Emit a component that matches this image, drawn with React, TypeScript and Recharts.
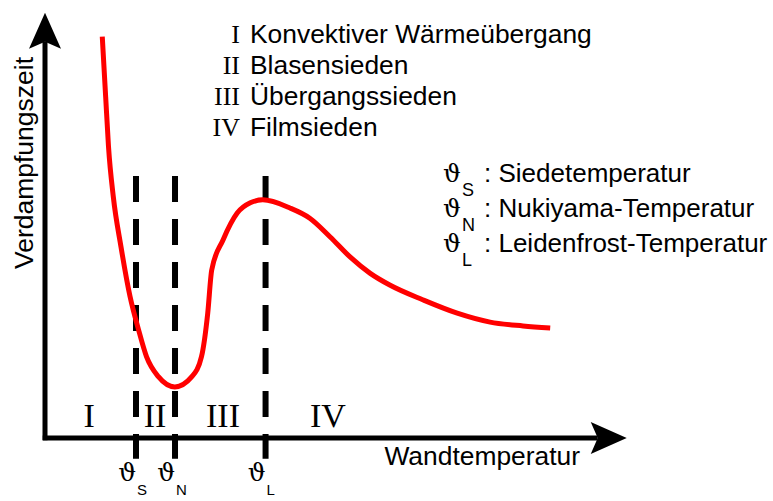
import { LineChart, Line, XAxis, YAxis, ReferenceLine, Customized } from 'recharts'

// Wandtemperatur (0..100, qualitative) vs. Verdampfungszeit (0..100, qualitative)
const wallTemp = [
  10.1, 10.7, 11.2, 12.05, 13.4, 15.0, 16.5, 17.9, 20.0, 22.9,
  25.9, 27.6, 28.7, 29.4, 31.4, 33.9, 36.2, 38.4, 43.2, 46.7,
  50.3, 53.8, 57.3, 60.8, 66.7, 72.7, 78.5, 84.3, 89.1,
]
const evapTime = [
  94.2, 80.1, 68.4, 56.6, 44.9, 33.2, 25.4, 19.1, 14.4, 12.0,
  14.4, 19.1, 29.3, 39.4, 46.5, 52.8, 55.2, 55.9, 54.0, 51.6,
  47.2, 42.5, 38.7, 35.9, 32.4, 29.3, 27.2, 26.3, 25.8,
]

// characteristic temperatures
const charTemps = [16.05, 22.93, 38.9]
const charSubs = ['S', 'N', 'L']
const charNames = ['Siedetemperatur', 'Nukiyama-Temperatur', 'Leidenfrost-Temperatur']

// boiling regimes
const regimes = ['I', 'II', 'III', 'IV']
const regimeNames = ['Konvektiver Wärmeübergang', 'Blasensieden', 'Übergangssieden', 'Filmsieden']
const regimeCenters = [7.8, 19.4, 31.4, 49.9]

const data = wallTemp.map((x, i) => ({ x, y: evapTime[i] }))

const W = 773
const H = 501
const M = { top: 12, right: 161, bottom: 63, left: 45 }
const PW = W - M.left - M.right
const px = (v: number) => M.left + (v / 100) * PW

const SANS = '"Liberation Sans", Arial, Helvetica, sans-serif'
const SERIF = '"Liberation Serif", "Times New Roman", serif'
const THETA = '"DejaVu Serif", serif'

function Arrow(p: any) {
  const { x1, y1, x2, y2 } = p
  const dx = x2 - x1
  const dy = y2 - y1
  const len = Math.hypot(dx, dy) || 1
  const ux = dx / len
  const uy = dy / len
  const nx = -uy
  const ny = ux
  const L = 36
  const HW = 16
  const notch = 7
  const bx = x2 - ux * L
  const by = y2 - uy * L
  const mx = x2 - ux * (L - notch)
  const my = y2 - uy * (L - notch)
  return (
    <g>
      <line x1={x1} y1={y1} x2={mx} y2={my} stroke="#000" strokeWidth={5} />
      <polygon
        points={`${x2},${y2} ${bx + nx * HW},${by + ny * HW} ${mx},${my} ${bx - nx * HW},${by - ny * HW}`}
        fill="#000"
      />
    </g>
  )
}

function Annotations() {
  return (
    <g>
      {/* axis titles */}
      <text transform="translate(33,163) rotate(-90)" textAnchor="middle" fontFamily={SANS} fontSize={26.5} fill="#000">
        Verdampfungszeit
      </text>
      <text x={580} y={465} textAnchor="end" fontFamily={SANS} fontSize={26.4} fill="#000">
        Wandtemperatur
      </text>

      {/* regime legend */}
      {regimes.map((r, i) => (
        <g key={r}>
          <text x={240} y={43 + i * 31} textAnchor="end" fontFamily={SERIF} fontSize={26} fill="#000">{r}</text>
          <text x={250} y={43 + i * 31} fontFamily={SANS} fontSize={26.4} fill="#000">{regimeNames[i]}</text>
        </g>
      ))}

      {/* temperature legend */}
      {charSubs.map((s, i) => (
        <g key={s}>
          <text x={443} y={182 + i * 35} fontFamily={THETA} fontSize={25} fill="#000">ϑ</text>
          <text x={462} y={196 + i * 35} fontFamily={SANS} fontSize={18} fill="#000">{s}</text>
          <text x={484} y={182 + i * 35} fontFamily={SANS} fontSize={26} fill="#000">: {charNames[i]}</text>
        </g>
      ))}

      {/* regime numerals */}
      {regimes.map((r, i) => (
        <text key={r} x={px(regimeCenters[i])} y={427} textAnchor="middle" fontFamily={SERIF} fontSize={34} fill="#000">
          {r}
        </text>
      ))}

      {/* temperature marks under the axis */}
      {charTemps.map((t, i) => (
        <g key={charSubs[i]}>
          <text x={px(t)} y={481} textAnchor="end" fontFamily={THETA} fontSize={25} fill="#000">ϑ</text>
          <text x={px(t) + 1} y={495} fontFamily={SANS} fontSize={15} fill="#000">{charSubs[i]}</text>
        </g>
      ))}
    </g>
  )
}

export default function App() {
  return (
    <div style={{ position: 'absolute', left: 0, top: 0, width: W, height: H, background: '#fff' }}>
      <LineChart width={W} height={H} data={data} margin={M}>
        <XAxis type="number" dataKey="x" domain={[0, 100]} hide />
        <YAxis type="number" domain={[0, 100]} hide />

        {/* axes with arrow heads */}
        <ReferenceLine
          segment={[{ x: 0, y: -0.5 }, { x: 0, y: 99.8 }]}
          ifOverflow="visible"
          shape={Arrow}
        />
        <ReferenceLine
          segment={[{ x: -0.4, y: 0 }, { x: 102.6, y: 0 }]}
          ifOverflow="visible"
          shape={Arrow}
        />

        {/* dashed temperature markers */}
        {charTemps.map((t) => (
          <ReferenceLine
            key={t}
            segment={[{ x: t, y: 61.5 }, { x: t, y: -4.9 }]}
            ifOverflow="visible"
            stroke="#000"
            strokeWidth={6}
            strokeDasharray="26 17"
          />
        ))}

        <Line
          dataKey="y"
          type="monotone"
          stroke="#ff0000"
          strokeWidth={5}
          dot={false}
          activeDot={false}
          isAnimationActive={false}
        />

        <Customized component={Annotations} />
      </LineChart>
    </div>
  )
}
